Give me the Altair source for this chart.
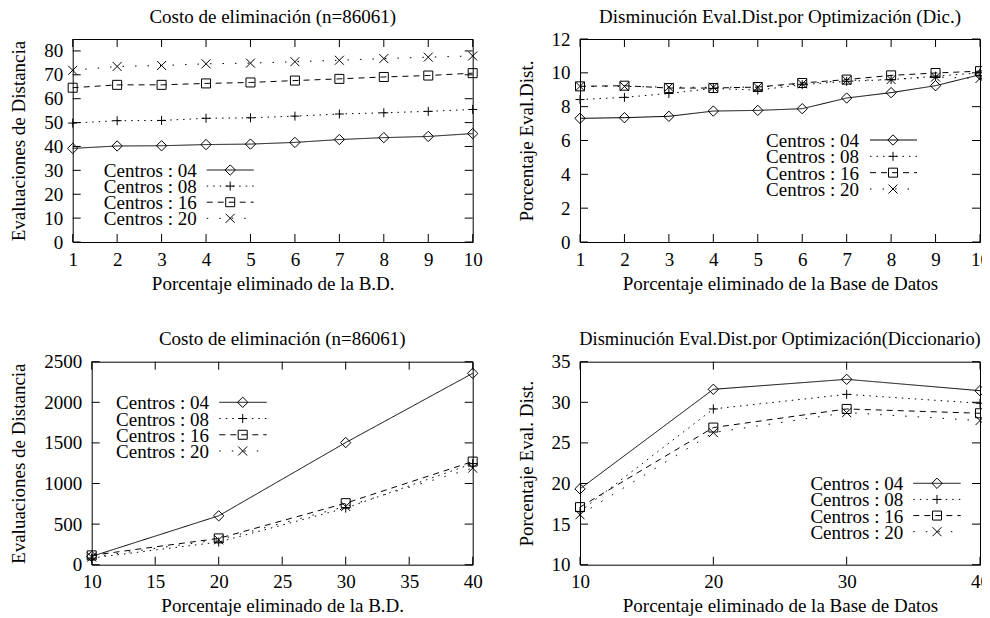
import altair as alt
import pandas as pd

FONT = "Liberation Serif"
FS = 19

series = ["04", "08", "16", "20"]
labels = ["Centros : 04", "Centros : 08", "Centros : 16", "Centros : 20"]

# Panel 1: Costo de eliminación (n=86061), 1..10 %
x1 = [1, 2, 3, 4, 5, 6, 7, 8, 9, 10]
p1_04 = [39.2, 40.2, 40.3, 40.8, 41.0, 41.7, 42.9, 43.7, 44.2, 45.4]
p1_08 = [49.8, 50.8, 50.9, 51.8, 52.0, 52.7, 53.6, 54.1, 54.7, 55.5]
p1_16 = [64.6, 65.8, 65.8, 66.4, 66.8, 67.6, 68.3, 69.1, 69.7, 70.7]
p1_20 = [71.9, 73.5, 73.9, 74.6, 74.9, 75.5, 76.1, 76.8, 77.4, 77.9]

# Panel 2: Disminución Eval.Dist.por Optimización (Dic.)
x2 = [1, 2, 3, 4, 5, 6, 7, 8, 9, 10]
p2_04 = [7.31, 7.35, 7.43, 7.74, 7.78, 7.88, 8.51, 8.83, 9.24, 9.89]
p2_08 = [8.42, 8.55, 8.78, 9.08, 8.98, 9.30, 9.50, 9.60, 9.80, 10.0]
p2_16 = [9.20, 9.24, 9.10, 9.10, 9.16, 9.40, 9.60, 9.85, 9.99, 10.1]
p2_20 = [9.20, 9.20, 9.15, 9.15, 9.15, 9.35, 9.55, 9.60, 9.75, 9.67]

# Panel 3: Costo de eliminación (n=86061), 10..40 %
x3 = [10, 20, 30, 40]
p3_04 = [102, 602, 1504, 2357]
p3_08 = [82, 279, 697, 1245]
p3_16 = [115, 324, 758, 1270]
p3_20 = [94, 307, 717, 1189]

# Panel 4: Disminución Eval.Dist.por Optimización(Diccionario)
x4 = [10, 20, 30, 40]
p4_04 = [19.34, 31.60, 32.83, 31.43]
p4_08 = [16.56, 29.18, 30.98, 29.88]
p4_16 = [17.09, 26.89, 29.18, 28.65]
p4_20 = [16.15, 26.27, 28.73, 27.75]

DASHES = [[1, 0], [1.5, 5], [6, 5], [1.5, 11]]
SHAPES = [
    "M0,-1.15L1.15,0L0,1.15L-1.15,0Z",
    "M-1,0L1,0M0,-1L0,1",
    "M-1,-1L1,-1L1,1L-1,1Z",
    "M-1,-1L1,1M-1,1L1,-1",
]
dash_scale = alt.Scale(domain=series, range=DASHES)
shape_scale = alt.Scale(domain=series, range=SHAPES)


def long_df(xs, ys_list):
    rows = []
    for s, ys in zip(series, ys_list):
        for xv, yv in zip(xs, ys):
            rows.append({"x": xv, "y": yv, "series": s})
    return pd.DataFrame(rows)


def panel(xs, ys_list, xdom, ydom, xticks, yticks, W, H, title, xtitle, ytitle,
          ytoff, leg, tfs=FS):
    df = long_df(xs, ys_list)
    common = dict(grid=False, domain=False, ticks=False, labelFlush=False, format="d",
                  labelFont=FONT, titleFont=FONT, labelFontSize=FS, titleFontSize=FS,
                  titleFontWeight="normal", labelColor="black", titleColor="black")
    xaxis = alt.Axis(values=xticks, title=xtitle, labelPadding=8, minExtent=27,
                     maxExtent=27, titlePadding=5, **common)
    yaxis = alt.Axis(values=yticks, title=ytitle, labelPadding=10,
                     minExtent=ytoff - 18, maxExtent=ytoff - 18, titlePadding=18,
                     titleBaseline="alphabetic", **common)
    X = alt.X("x:Q", scale=alt.Scale(domain=xdom, nice=False, zero=False), axis=xaxis)
    Y = alt.Y("y:Q", scale=alt.Scale(domain=ydom, nice=False, zero=False), axis=yaxis)

    xt = pd.DataFrame({"x": xticks})
    yt = pd.DataFrame({"y": yticks})
    T = 8
    ticks = [
        alt.Chart(xt).mark_rule(color="black", strokeWidth=1).encode(
            x=X, y=alt.value(0), y2=alt.value(T)),
        alt.Chart(xt).mark_rule(color="black", strokeWidth=1).encode(
            x=X, y=alt.value(H), y2=alt.value(H - T)),
        alt.Chart(yt).mark_rule(color="black", strokeWidth=1).encode(
            y=Y, x=alt.value(0), x2=alt.value(T)),
        alt.Chart(yt).mark_rule(color="black", strokeWidth=1).encode(
            y=Y, x=alt.value(W), x2=alt.value(W - T)),
    ]
    lines = alt.Chart(df).mark_line(color="black", strokeWidth=1).encode(
        x=X, y=Y,
        strokeDash=alt.StrokeDash("series:N", scale=dash_scale, legend=None),
        detail="series:N",
    )
    points = alt.Chart(df).mark_point(color="black", filled=False, strokeWidth=1,
                                      size=81, opacity=1).encode(
        x=X, y=Y,
        shape=alt.Shape("series:N", scale=shape_scale, legend=None),
    )
    ttl = alt.Chart(pd.DataFrame({"t": [title]})).mark_text(
        align="center", baseline="alphabetic", font=FONT, fontSize=tfs, color="black"
    ).encode(x=alt.value(W / 2), y=alt.value(-16.3), text="t:N")
    main = alt.layer(*ticks, lines, points, ttl)

    tx, la, lb, lm, y0, y3 = leg
    ldf = pd.DataFrame({"series": series, "label": labels})
    LY = alt.Y("series:N", scale=alt.Scale(type="point", domain=series, range=[y0, y3],
                                           padding=0), axis=None)
    ltext = alt.Chart(ldf).mark_text(align="right", baseline="middle", font=FONT,
                                     fontSize=FS, color="black", dy=1).encode(
        x=alt.value(tx), y=LY, text="label:N")
    lrule = alt.Chart(ldf).mark_rule(color="black", strokeWidth=1).encode(
        x=alt.value(la), x2=alt.value(lb), y=LY,
        strokeDash=alt.StrokeDash("series:N", scale=dash_scale, legend=None))
    lpt = alt.Chart(ldf).mark_point(color="black", filled=False, strokeWidth=1,
                                    size=81, opacity=1).encode(
        x=alt.value(lm), y=LY,
        shape=alt.Shape("series:N", scale=shape_scale, legend=None))
    legend = alt.layer(ltext, lrule, lpt)

    return alt.layer(main, legend).resolve_scale(y="independent").properties(
        width=W, height=H)


c1 = panel(x1, [p1_04, p1_08, p1_16, p1_20], [1, 10], [0, 85], x1,
           list(range(0, 81, 10)), 400, 203, "Costo de eliminación (n=86061)",
           "Porcentaje eliminado de la B.D.", "Evaluaciones de Distancia", 48,
           (124, 134, 181, 157.5, 131, 179.3))
c2 = panel(x2, [p2_04, p2_08, p2_16, p2_20], [1, 10], [0, 12], x2,
           list(range(0, 13, 2)), 400, 203,
           "Disminución Eval.Dist.por Optimización (Dic.)",
           "Porcentaje eliminado de la Base de Datos", "Porcentaje Eval.Dist.", 48,
           (279, 290, 337, 313, 101, 150))
c3 = panel(x3, [p3_04, p3_08, p3_16, p3_20], [10, 40], [0, 2500],
           list(range(10, 41, 5)), list(range(0, 2501, 500)), 381, 203,
           "Costo de eliminación (n=86061)",
           "Porcentaje eliminado de la B.D.", "Evaluaciones de Distancia", 67,
           (117.3, 127.6, 175, 151, 40.6, 89.3))
c4 = panel(x4, [p4_04, p4_08, p4_16, p4_20], [10, 40], [10, 35], x4,
           list(range(10, 36, 5)), 400, 203,
           "Disminución Eval.Dist.por Optimización(Diccionario)",
           "Porcentaje eliminado de la Base de Datos", "Porcentaje Eval. Dist.", 48,
           (323.3, 333.3, 380.7, 357, 121.6, 170), tfs=18.4)

spacer = alt.Chart(pd.DataFrame({"a": [0]})).mark_point(opacity=0).encode(
    x=alt.value(0), y=alt.value(0)
).properties(width=19, height=203,
             view=alt.ViewBackground(stroke="transparent", strokeWidth=0))

row1 = alt.hconcat(c1, c2, spacing=107.3, bounds="flush")
row2 = alt.hconcat(spacer, alt.hconcat(c3, c4, spacing=107.3, bounds="flush"),
                   spacing=0, bounds="flush")
chart = alt.vconcat(row1, row2, spacing=322.7, bounds="flush").properties(
    autosize=alt.AutoSizeParams(type="none"),
    padding={"left": 64.7, "top": 31, "right": 909.3, "bottom": 579},
    background="white",
).configure_view(stroke="black", strokeWidth=1)

chart.save("out.html", embed_options={"renderer": "svg", "actions": False})
